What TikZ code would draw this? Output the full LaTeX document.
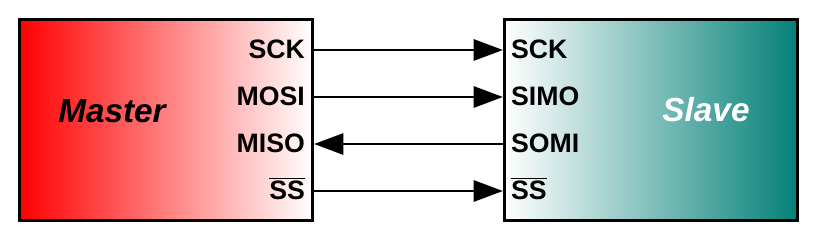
\documentclass[tikz,border=0pt]{standalone}
\usepackage{fontspec}
\setmainfont{Liberation Sans}
\usetikzlibrary{arrows.meta,positioning,calc}
\definecolor{slaveteal}{RGB}{4,128,120}
\newcommand{\ovl}[1]{$\overline{\hbox{#1}}$}

\begin{document}
\begin{tikzpicture}[x=0.75pt,y=-0.75pt,>={Triangle[length=22pt,width=16pt]}]
  \useasboundingbox (0,0) rectangle (813,236);
  \tikzset{
    unit/.style={draw,line width=2.2pt,minimum width=220pt,minimum height=151pt,inner sep=0pt},
    pinlbl/.style={font=\bfseries\fontsize{20}{20}\selectfont,inner sep=0pt},
    title/.style={font=\bfseries\itshape\fontsize{25}{25}\selectfont,inner sep=0pt,anchor=base},
    sig/.style={line width=1.6pt}
  }

  % the two devices
  \node[unit,left color=red,right color=white] (master) at (166,120) {};
  \node[unit,left color=white,right color=slaveteal] (slave) at (651,120) {};

  \node[title] (mtitle) at (112,122) {Master};
  \node[title,white] (stitle) at (706,121) {Slave};

  % pins and signal lines
  \foreach \m/\s/\y/\dir [count=\i] in {SCK/SCK/50/->, MOSI/SIMO/97/->,
                                        MISO/SOMI/144/<-, \ovl{SS}/\ovl{SS}/191/->}{
    \path (master.east |- 0,\y) coordinate (mp\i);
    \path (slave.west |- 0,\y) coordinate (sp\i);
    \node[pinlbl,anchor=base east] (ml\i) at ($(mp\i)+(-9,8)$) {\m};
    \node[pinlbl,anchor=base west] (sl\i) at ($(sp\i)+(8,8)$) {\s};
    \draw[sig,\dir] (mp\i) -- (sp\i);
  }
\end{tikzpicture}
\end{document}
